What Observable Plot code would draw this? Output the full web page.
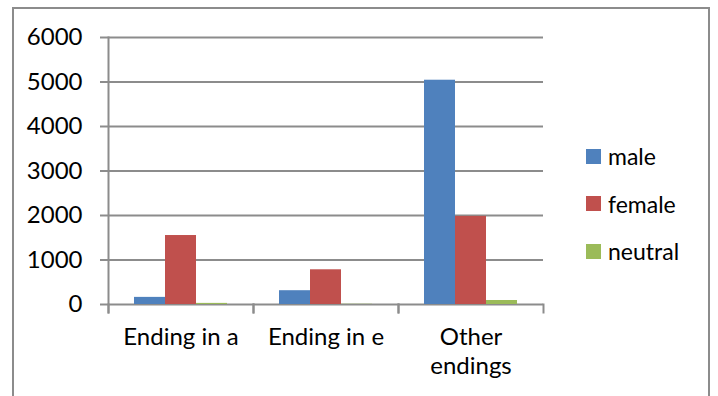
<!DOCTYPE html>
<html>
<head>
<meta charset="utf-8">
<script src="https://cdn.jsdelivr.net/npm/d3@7"></script>
<script src="https://cdn.jsdelivr.net/npm/@observablehq/plot@0.6"></script>
<style>
  html, body { margin: 0; padding: 0; background: #fff; }
  #wrap { position: relative; width: 718px; height: 396px; overflow: hidden; font-family: Lato, "Open Sans", sans-serif; }
  #border { position: absolute; left: 12px; top: 7px; width: 698px; height: 420px; border: 2px solid #8c8c8c; box-sizing: border-box; }
  #chart { position: absolute; left: 0; top: 0; }
  #legend { position: absolute; left: 586px; top: 141px; }
  .lg-swatches { font-family: Lato, "Open Sans", sans-serif; font-size: 23px; color: #000; margin: 0 !important; min-height: 0 !important; }
  .lg-swatch { display: flex; align-items: center; height: 30px; margin: 0 0 17.5px 0 !important; padding: 0 !important; }
  .lg-swatch svg { margin-right: 7px !important; }
</style>
</head>
<body>
<div id="wrap">
  <div id="border"></div>
  <div id="chart"></div>
  <div id="legend"></div>
</div>
<script>
const categories = ["Ending in a", "Ending in e", "Other endings"];
const categoryLabels = ["Ending in a", "Ending in e", "Other\nendings"];
const series = ["male", "female", "neutral"];
const maleValues = [160, 310, 5040];
const femaleValues = [1550, 780, 1980];
const neutralValues = [25, 5, 90];
const seriesColors = ["#4F81BD", "#C0504D", "#9BBB59"];
const yTicks = [0, 1000, 2000, 3000, 4000, 5000, 6000];

const valuesBySeries = [maleValues, femaleValues, neutralValues];
const data = [];
categories.forEach((c, i) => {
  series.forEach((s, j) => data.push({category: c, series: s, value: valuesBySeries[j][i]}));
});
const labelOf = new Map(categories.map((c, i) => [c, categoryLabels[i]]));

const grid = "#8c8c8c";
const chart = Plot.plot({
  width: 718,
  height: 396,
  marginLeft: 107,
  marginRight: 175,
  marginTop: 37,
  marginBottom: 92,
  style: {fontFamily: "Lato, 'Open Sans', sans-serif", fontSize: "24px", color: "#000", background: "transparent"},
  fx: {domain: categories, padding: 0, label: null},
  x: {domain: series, paddingInner: 0, paddingOuter: 0.77, axis: null},
  y: {domain: [0, 6000], label: null},
  color: {domain: series, range: seriesColors},
  marks: [
    Plot.gridY(yTicks, {stroke: grid, strokeOpacity: 1, strokeWidth: 2}),
    Plot.frame({anchor: "left", stroke: grid, strokeWidth: 2, insetTop: 267, insetBottom: -8}),
    Plot.frame({anchor: "right", stroke: grid, strokeWidth: 2, insetTop: 267, insetBottom: -8}),
    Plot.frame({anchor: "left", stroke: grid, strokeWidth: 2, insetBottom: -8, fx: [categories[0]]}),
    Plot.barY(data, {fx: "category", x: "series", y: "value", fill: "series"}),
    Plot.axisY(yTicks, {anchor: "left", tickSize: 8, tickPadding: 18, stroke: grid, strokeWidth: 2, fontSize: 24, label: null, tickFormat: d => String(d)}),
    Plot.axisFx({anchor: "bottom", tickSize: 0, tickPadding: 20, fontSize: 24, lineHeight: 1.21, label: null, tickFormat: d => labelOf.get(d)})
  ]
});
document.getElementById("chart").appendChild(chart);

const legend = Plot.legend({
  color: {domain: series, range: seriesColors},
  legend: "swatches",
  columns: 1,
  swatchSize: 15,
  className: "lg"
});
document.getElementById("legend").appendChild(legend);
</script>
</body>
</html>
